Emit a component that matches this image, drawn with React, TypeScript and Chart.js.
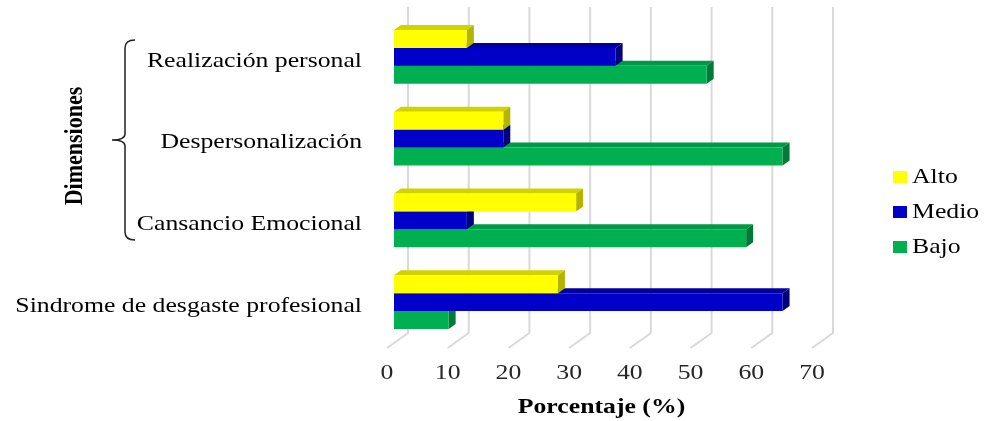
import React, { useEffect, useRef } from "react";
import { Chart, registerables } from "chart.js";

Chart.register(...registerables);

// ---- data ----
const categories = [
  "Realización personal",
  "Despersonalización",
  "Cansancio Emocional",
  "Sindrome de desgaste profesional",
];
const seriesNames = ["Alto", "Medio", "Bajo"];
const alto = [12, 18, 30, 27];
const medio = [36.5, 18, 12, 64];
const bajo = [51.5, 64, 58, 9];
const xTicks = [0, 10, 20, 30, 40, 50, 60, 70];

// ---- styles ----
const FRONT = ["#FFFF00", "#0000C8", "#00B050"];
const TOPC = ["#D2D200", "#0000A0", "#009A46"];
const SIDE = ["#B4B400", "#00007C", "#007A36"];
const DX = 7;
const DY = 5;
const SX = 1.17;
const SERIF = '"Liberation Serif", "Times New Roman", serif';

function stretchText(
  ctx: CanvasRenderingContext2D,
  text: string,
  x: number,
  y: number,
  align: CanvasTextAlign,
  font: string,
  color: string
) {
  ctx.save();
  ctx.font = font;
  ctx.fillStyle = color;
  ctx.textAlign = align;
  ctx.textBaseline = "middle";
  ctx.translate(x, y);
  ctx.scale(SX, 1);
  ctx.fillText(text, 0, 0);
  ctx.restore();
}

const excel3d = {
  id: "excel3d",
  beforeDatasetsDraw(chart: any) {
    const { ctx, chartArea: a, scales } = chart;
    const xs = scales.x;
    ctx.save();
    // back wall + floor gridlines
    ctx.strokeStyle = "#D9D9D9";
    ctx.lineWidth = 2;
    for (const v of xTicks) {
      const px = xs.getPixelForValue(v);
      ctx.beginPath();
      ctx.moveTo(px + 2 * DX, a.top - 2 * DY + 1);
      ctx.lineTo(px + 2 * DX, a.bottom - 2 * DY);
      ctx.lineTo(px - DX, a.bottom + DY);
      ctx.stroke();
    }
    // bar extrusions (top + side faces)
    const n = chart.data.datasets.length;
    for (let j = 0; j < chart.data.labels.length; j++) {
      for (let i = n - 1; i >= 0; i--) {
        const el = chart.getDatasetMeta(i).data[j];
        const { x, y, base, height } = el.getProps(["x", "y", "base", "height"], true);
        const t = y - height / 2;
        const b = y + height / 2;
        ctx.fillStyle = TOPC[i];
        ctx.beginPath();
        ctx.moveTo(base, t);
        ctx.lineTo(base + DX, t - DY);
        ctx.lineTo(x + DX, t - DY);
        ctx.lineTo(x, t);
        ctx.closePath();
        ctx.fill();
        ctx.fillStyle = SIDE[i];
        ctx.beginPath();
        ctx.moveTo(x, t);
        ctx.lineTo(x + DX, t - DY);
        ctx.lineTo(x + DX, b - DY);
        ctx.lineTo(x, b);
        ctx.closePath();
        ctx.fill();
      }
    }
    ctx.restore();
  },
  afterDraw(chart: any) {
    const { ctx, chartArea: a, scales } = chart;
    const xs = scales.x;
    const ys = scales.y;
    // category labels
    chart.data.labels.forEach((lab: string, j: number) => {
      const py = ys.getPixelForValue(j) + 4;
      stretchText(ctx, lab, a.left - 32, py, "right", `22px ${SERIF}`, "#000000");
    });
    // x tick labels
    for (const v of xTicks) {
      const px = xs.getPixelForValue(v) - DX;
      stretchText(ctx, String(v), px, a.bottom + 30, "center", `22px ${SERIF}`, "#262626");
    }
    // x title
    stretchText(
      ctx,
      "Porcentaje (%)",
      (a.left + a.right) / 2 - 5,
      a.bottom + 64,
      "center",
      `bold 22px ${SERIF}`,
      "#000000"
    );
    // y title (rotated)
    ctx.save();
    ctx.font = `bold 22px ${SERIF}`;
    ctx.fillStyle = "#000000";
    ctx.textAlign = "center";
    ctx.textBaseline = "middle";
    ctx.translate(75, 146);
    ctx.rotate(-Math.PI / 2);
    ctx.scale(1, SX);
    ctx.fillText("Dimensiones", 0, 0);
    ctx.restore();
    // brace
    ctx.save();
    ctx.strokeStyle = "#222222";
    ctx.lineWidth = 1.5;
    ctx.beginPath();
    ctx.moveTo(135, 40);
    ctx.quadraticCurveTo(125, 40, 125, 48);
    ctx.lineTo(125, 134);
    ctx.quadraticCurveTo(125, 140, 112, 140);
    ctx.quadraticCurveTo(125, 140, 125, 146);
    ctx.lineTo(125, 232);
    ctx.quadraticCurveTo(125, 240, 135, 240);
    ctx.stroke();
    ctx.restore();
    // legend
    chart.data.datasets.forEach((ds: any, i: number) => {
      const cy = 177 + i * 35;
      ctx.fillStyle = FRONT[i];
      ctx.fillRect(893, cy - 6, 14, 12);
      stretchText(ctx, ds.label, 912, cy, "left", `22px ${SERIF}`, "#000000");
    });
  },
};

export default function App() {
  const ref = useRef<HTMLCanvasElement | null>(null);
  useEffect(() => {
    if (!ref.current) return;
    const series = [alto, medio, bajo];
    const chart = new Chart(ref.current, {
      type: "bar",
      data: {
        labels: categories,
        datasets: seriesNames.map((name, i) => ({
          label: name,
          data: series[i],
          backgroundColor: FRONT[i],
          borderWidth: 0,
          barPercentage: 1,
          categoryPercentage: 0.66,
        })),
      },
      options: {
        indexAxis: "y",
        responsive: false,
        animation: false,
        layout: { padding: { left: 0, right: 166, top: 16, bottom: 0 } },
        plugins: { legend: { display: false }, tooltip: { enabled: false } },
        scales: {
          x: {
            min: 0,
            max: 70,
            ticks: { display: false, stepSize: 10 },
            grid: { display: false },
            border: { display: false },
            afterFit: (s: any) => {
              s.height = 78;
            },
          },
          y: {
            ticks: { display: false },
            grid: { display: false },
            border: { display: false },
            afterFit: (s: any) => {
              s.width = 394;
            },
          },
        },
      },
      plugins: [excel3d],
    } as any);
    return () => chart.destroy();
  }, []);
  return (
    <div style={{ position: "absolute", left: 0, top: 0, width: 985, height: 421, background: "#fff" }}>
      <canvas ref={ref} width={985} height={421} style={{ display: "block" }} />
    </div>
  );
}
